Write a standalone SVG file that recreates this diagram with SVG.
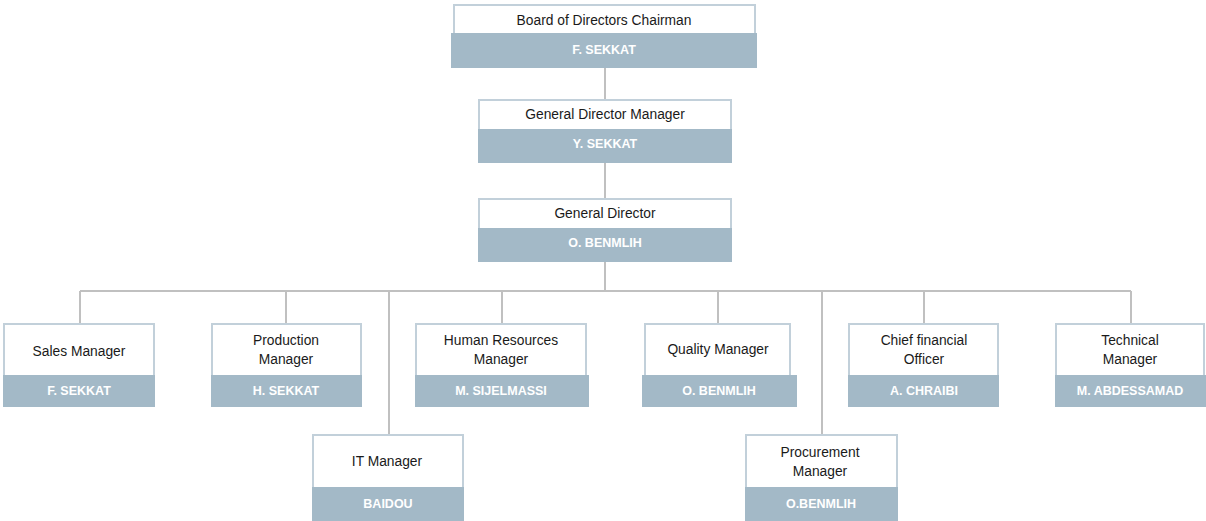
<svg xmlns="http://www.w3.org/2000/svg" width="1206" height="521" viewBox="0 0 1206 521">
<style>
.box{fill:#ffffff;stroke:#c2d0da;stroke-width:2}
.band{fill:#a3b9c7}
.t{font-family:"Liberation Sans",Arial,sans-serif;font-size:13.8px;fill:#1a1a1a;text-anchor:middle;dominant-baseline:central}
.n{font-family:"Liberation Sans",Arial,sans-serif;font-size:12.5px;font-weight:bold;fill:#ffffff;text-anchor:middle;dominant-baseline:central}
.c{stroke:#c0c0c0;stroke-width:2;fill:none}
</style>
<rect width="1206" height="521" fill="#ffffff"/>
<g id="connectors">
<path class="c" d="M605,68V99M605,163V198M605,262V291M80,291H1131M80,291V323M286,291V323M389,291V434M502,291V323M718,291V323M822,291V434M924,291V323M1131,291V323"/>
</g>
<g id="board">
<rect class="box" x="454" y="5" width="301" height="30"/>
<rect class="band" x="451" y="33" width="306" height="35"/>
<text class="t" x="604" y="20">Board of Directors Chairman</text>
<text class="n" x="604" y="50">F. SEKKAT</text>
</g>
<g id="gdm">
<rect class="box" x="479" y="100" width="252" height="31"/>
<rect class="band" x="478" y="129" width="254" height="34"/>
<text class="t" x="605" y="114">General Director Manager</text>
<text class="n" x="605" y="144">Y. SEKKAT</text>
</g>
<g id="gd">
<rect class="box" x="479" y="199" width="252" height="31"/>
<rect class="band" x="478" y="228" width="254" height="34"/>
<text class="t" x="605" y="213">General Director</text>
<text class="n" x="605" y="243">O. BENMLIH</text>
</g>
<g id="sales">
<rect class="box" x="4" y="324" width="150" height="53"/>
<rect class="band" x="3" y="375" width="152" height="32"/>
<text class="t" x="79" y="351">Sales Manager</text>
<text class="n" x="79" y="391">F. SEKKAT</text>
</g>
<g id="production">
<rect class="box" x="212" y="324" width="149" height="53"/>
<rect class="band" x="211" y="375" width="151" height="32"/>
<text class="t" x="286" y="340">Production</text>
<text class="t" x="286" y="359">Manager</text>
<text class="n" x="286" y="391">H. SEKKAT</text>
</g>
<g id="hr">
<rect class="box" x="416" y="324" width="170" height="53"/>
<rect class="band" x="415" y="375" width="174" height="32"/>
<text class="t" x="501" y="340">Human Resources</text>
<text class="t" x="501" y="359">Manager</text>
<text class="n" x="501" y="391">M. SIJELMASSI</text>
</g>
<g id="quality">
<rect class="box" x="645" y="324" width="145" height="53"/>
<rect class="band" x="642" y="375" width="155" height="32"/>
<text class="t" x="718" y="349">Quality Manager</text>
<text class="n" x="719" y="391">O. BENMLIH</text>
</g>
<g id="cfo">
<rect class="box" x="849" y="324" width="149" height="53"/>
<rect class="band" x="848" y="375" width="151" height="32"/>
<text class="t" x="924" y="340">Chief financial</text>
<text class="t" x="924" y="359">Officer</text>
<text class="n" x="924" y="391">A. CHRAIBI</text>
</g>
<g id="technical">
<rect class="box" x="1056" y="324" width="148" height="53"/>
<rect class="band" x="1055" y="375" width="151" height="32"/>
<text class="t" x="1130" y="340">Technical</text>
<text class="t" x="1130" y="359">Manager</text>
<text class="n" x="1130" y="391">M. ABDESSAMAD</text>
</g>
<g id="it">
<rect class="box" x="313" y="435" width="150" height="54"/>
<rect class="band" x="312" y="487" width="152" height="34"/>
<text class="t" x="387" y="461">IT Manager</text>
<text class="n" x="388" y="504">BAIDOU</text>
</g>
<g id="procurement">
<rect class="box" x="746" y="435" width="151" height="54"/>
<rect class="band" x="745" y="487" width="153" height="34"/>
<text class="t" x="820" y="452">Procurement</text>
<text class="t" x="820" y="471">Manager</text>
<text class="n" x="821" y="504">O.BENMLIH</text>
</g>
</svg>
